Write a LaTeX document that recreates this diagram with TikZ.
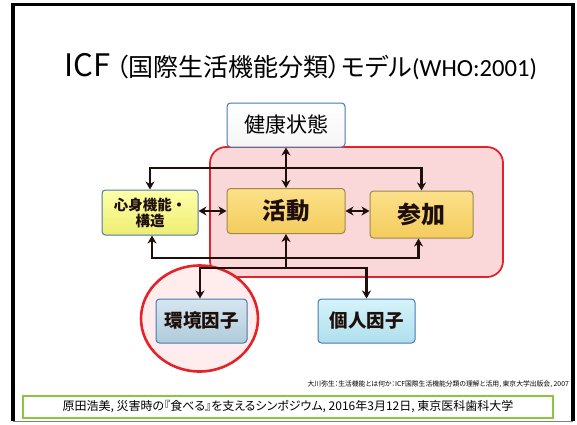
\documentclass[tikz,border=0pt]{standalone}
\usepackage{fontspec}
\usetikzlibrary{arrows.meta,shapes.geometric}
\newfontfamily\jpf{Noto Sans CJK JP}
\newfontfamily\jpp[RawFeature=+palt]{Noto Sans CJK JP}
\newfontfamily\carl{Carlito}
\definecolor{linec}{HTML}{1E0F0A}
\definecolor{boxblue}{HTML}{4A78B0}
\definecolor{pinkfill}{HTML}{FAD8D9}
\definecolor{redline}{HTML}{E3222A}
\definecolor{goldA}{HTML}{FCE08A}
\definecolor{goldB}{HTML}{F3CC5C}
\definecolor{goldline}{HTML}{9C8A4A}
\definecolor{yelA}{HTML}{FFFFA8}
\definecolor{yelB}{HTML}{EDED72}
\definecolor{envA}{HTML}{D6E6EF}
\definecolor{envB}{HTML}{AFCBDB}
\definecolor{perA}{HTML}{D6F3FA}
\definecolor{perB}{HTML}{AEDFEC}
\definecolor{footgreen}{HTML}{8CC63F}
\tikzset{
  boxnode/.style={rectangle, rounded corners=3.5pt, inner sep=0pt, line width=1pt, align=center},
  arr/.style={draw=linec, line width=2.2pt, -{Stealth[length=8pt,width=9pt,inset=2.5pt]}},
  dbl/.style={draw=linec, line width=2.2pt, {Stealth[length=8pt,width=9pt,inset=2.5pt]}-{Stealth[length=8pt,width=9pt,inset=2.5pt]}}
}
\begin{document}
\begin{tikzpicture}[x=1pt,y=-1pt]
\useasboundingbox (0,0) rectangle (577,424);
% frame
\draw[line width=3.5pt] (13,421) -- (13,4.5) -- (573,4.5) -- (573,421);
\draw[gray, line width=1pt] (13,421) -- (573,421);
% title
\node[anchor=base west, inner sep=0pt] (t1) at (64,76) {\jpf\fontsize{31}{32}\selectfont ICF};
\node[anchor=base west, inner sep=0pt] (t2) at (116,76) {\jpp\fontsize{25}{27}\selectfont （国際生活機能分類）モデル};
\node[anchor=base west, inner sep=0pt] (t3) at (t2.base east) {\carl\fontsize{24.6}{26}\selectfont (WHO:2001)};
% pink group
\draw[redline, fill=pinkfill, line width=1.8pt, rounded corners=16pt] (210,147) rectangle (503,277);
% red circle
\node[ellipse, draw=redline, fill=red!7, line width=2.6pt, minimum width=117pt, minimum height=106pt, inner sep=0pt] (circ) at (199.5,318.5) {};
% boxes
\node[boxnode, draw=boxblue, top color=white, bottom color=white!92!gray, minimum width=118pt, minimum height=44pt, font={\jpf\fontsize{21}{24}\selectfont}] (kenko) at (286,125) {健康状態};
\node[boxnode, draw=boxblue, top color=yelA, bottom color=yelB, minimum width=96pt, minimum height=45pt, font={\jpf\bfseries\fontsize{14.5}{16}\selectfont}, text=linec] (shin) at (150,212.5) {心身機能・\\構造};
\node[boxnode, draw=goldline, top color=goldA, bottom color=goldB, minimum width=118pt, minimum height=45pt, font={\jpf\bfseries\fontsize{23.5}{26}\selectfont}, text=linec] (kats) at (286,211) {活動};
\node[boxnode, draw=goldline, top color=goldA, bottom color=goldB, minimum width=103pt, minimum height=47pt, font={\jpf\bfseries\fontsize{24}{26}\selectfont}, text=linec] (sanka) at (421.5,214.5) {参加};
\node[boxnode, draw=boxblue, top color=envA, bottom color=envB, minimum width=91pt, minimum height=44pt, font={\jpf\bfseries\fontsize{18.5}{20}\selectfont}, text=linec] (kankyo) at (201.5,321) {環境因子};
\node[boxnode, draw=boxblue, top color=perA, bottom color=perB, minimum width=97pt, minimum height=44pt, font={\jpf\bfseries\fontsize{18.5}{20}\selectfont}, text=linec] (kojin) at (366.5,321) {個人因子};
% junctions
\coordinate (jt) at (286,168);
\coordinate (jb) at (286,258);
\coordinate (jl) at (286,268);
% connectors
\draw[dbl] (kenko.south) -- (kats.north);
\draw[arr] (jt) -| (shin.north);
\draw[arr] (jt) -| (sanka.north);
\draw[dbl] (kats.west -| shin.east) -- (kats.west);
\draw[dbl] (kats.east) -- (kats.east -| sanka.west);
\draw[arr] (jl) -- (kats.south);
\draw[arr] (jb) -| ([xshift=2pt]shin.south);
\draw[arr] (jb) -| ([xshift=-3pt]sanka.south);
\draw[arr] (jl) -| ([xshift=-1.5pt]kankyo.north);
\draw[arr] (jl) -| (kojin.north);
% citation
\node[anchor=base east, inner sep=0pt, font={\jpp\fontsize{6.8}{8}\selectfont}] (cite) at (569,386) {大川弥生：生活機能とは何か：ICF国際生活機能分類の理解と活用, 東京大学出版会, 2007};
% footer
\node[draw=footgreen, line width=1.8pt, minimum width=530pt, minimum height=22pt, inner sep=0pt, font={\jpp\fontsize{12}{14}\selectfont}] (foot) at (288,407) {原田浩美, 災害時の『食べる』を支えるシンポジウム, 2016年3月12日, 東京医科歯科大学};
\end{tikzpicture}
\end{document}
